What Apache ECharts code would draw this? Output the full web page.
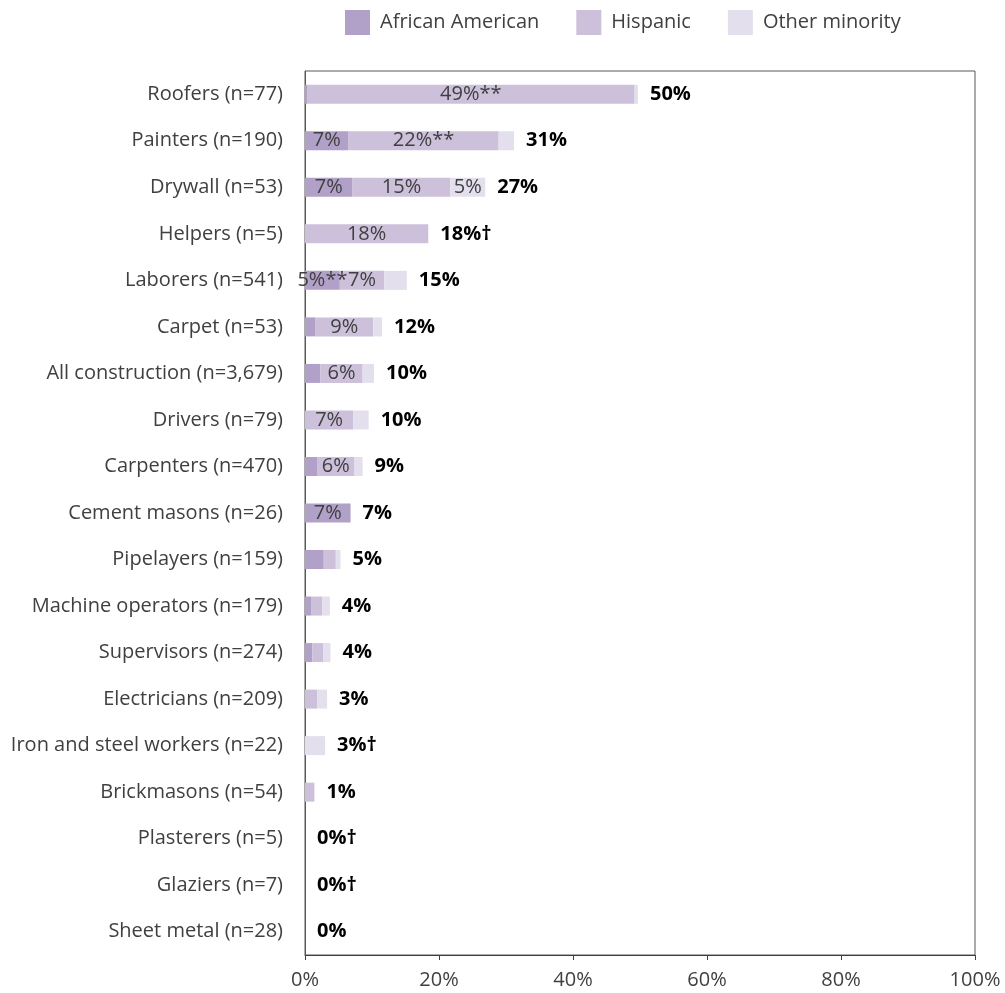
<!DOCTYPE html>
<html>
<head>
<meta charset="utf-8">
<script src="https://cdn.jsdelivr.net/npm/echarts@6/dist/echarts.min.js"></script>
<style>
html,body{margin:0;padding:0;background:#fff;}
#chart{width:1005px;height:993px;}
</style>
</head>
<body>
<div id="chart"></div>
<script>
const categories = ["Roofers (n=77)","Painters (n=190)","Drywall (n=53)","Helpers (n=5)","Laborers (n=541)","Carpet (n=53)","All construction (n=3,679)","Drivers (n=79)","Carpenters (n=470)","Cement masons (n=26)","Pipelayers (n=159)","Machine operators (n=179)","Supervisors (n=274)","Electricians (n=209)","Iron and steel workers (n=22)","Brickmasons (n=54)","Plasterers (n=5)","Glaziers (n=7)","Sheet metal (n=28)"];
const africanAmerican = [0.3, 6.5, 7.1, 0, 5.2, 1.5, 2.3, 0, 1.8, 6.8, 2.8, 0.9, 1.1, 0, 0, 0, 0, 0, 0];
const hispanic =        [48.9, 22.4, 14.6, 18.4, 6.6, 8.7, 6.3, 7.2, 5.6, 0, 1.8, 1.7, 1.6, 1.8, 0, 1.4, 0, 0, 0];
const otherMinority =   [0.5, 2.3, 5.2, 0, 3.4, 1.3, 1.7, 2.3, 1.2, 0, 0.7, 1.1, 1.1, 1.5, 3.0, 0, 0, 0, 0];
const aaLabels =    ["", "7%", "7%", "", "5%**", "", "", "", "", "7%", "", "", "", "", "", "", "", "", ""];
const hispLabels =  ["49%**", "22%**", "15%", "18%", "7%", "9%", "6%", "7%", "6%", "", "", "", "", "", "", "", "", "", ""];
const otherLabels = ["", "", "5%", "", "", "", "", "", "", "", "", "", "", "", "", "", "", "", ""];
const totalLabels = ["50%", "31%", "27%", "18%†", "15%", "12%", "10%", "10%", "9%", "7%", "5%", "4%", "4%", "3%", "3%†", "1%", "0%†", "0%†", "0%"];
const xTickValues = [0, 20, 40, 60, 80, 100];

const FONT = '"Open Sans"';
const FS = 20;
const chart = echarts.init(document.getElementById('chart'), null, {renderer: 'canvas'});

function inner(labels) {
  return {
    show: true,
    position: 'inside',
    fontFamily: FONT,
    fontSize: FS,
    color: '#404040',
    formatter: p => labels[p.dataIndex]
  };
}

const barW = 19;
chart.setOption({
  animation: false,
  textStyle: {fontFamily: FONT},
  legend: {
    top: 5,
    left: 340,
    itemWidth: 25,
    itemHeight: 25,
    itemGap: 37,
    icon: 'rect',
    data: ['African American', 'Hispanic', 'Other minority'],
    textStyle: {fontFamily: FONT, fontSize: FS, color: '#404040', padding: [0, 0, 0, 5]}
  },
  grid: {
    left: 305, right: 30, top: 71, bottom: 38,
    show: true, borderColor: '#595959', borderWidth: 1, backgroundColor: 'transparent'
  },
  xAxis: {
    type: 'value', min: 0, max: 100, interval: 20,
    axisLine: {show: true, lineStyle: {color: '#404040'}},
    axisTick: {show: true, length: 5, lineStyle: {color: '#404040'}},
    splitLine: {show: false},
    axisLabel: {formatter: '{value}%', fontFamily: FONT, fontSize: FS, color: '#404040', margin: 15}
  },
  yAxis: {
    type: 'category', inverse: true, data: categories,
    axisLine: {show: true, lineStyle: {color: '#595959'}},
    axisTick: {show: false},
    axisLabel: {fontFamily: FONT, fontSize: FS, color: '#404040', margin: 22}
  },
  series: [
    {name: 'African American', type: 'bar', stack: 'a', stackStrategy: 'all', barWidth: barW,
     itemStyle: {color: '#B1A0C7'}, data: africanAmerican, label: inner(aaLabels)},
    {name: 'Hispanic', type: 'bar', stack: 'a', stackStrategy: 'all', barWidth: barW,
     itemStyle: {color: '#CCC0DA'}, data: hispanic, label: inner(hispLabels)},
    {name: 'Other minority', type: 'bar', stack: 'a', stackStrategy: 'all', barWidth: barW,
     itemStyle: {color: '#E4DFEC'}, data: otherMinority, label: inner(otherLabels)},
    {name: 'Total', type: 'bar', stack: 'a', stackStrategy: 'all', barWidth: barW,
     itemStyle: {color: 'transparent'}, data: categories.map(() => 0),
     label: {show: true, position: 'right', distance: 12, fontFamily: FONT, fontSize: FS,
             fontWeight: 'bold', color: '#000', formatter: p => totalLabels[p.dataIndex]}}
  ]
});
</script>
</body>
</html>
